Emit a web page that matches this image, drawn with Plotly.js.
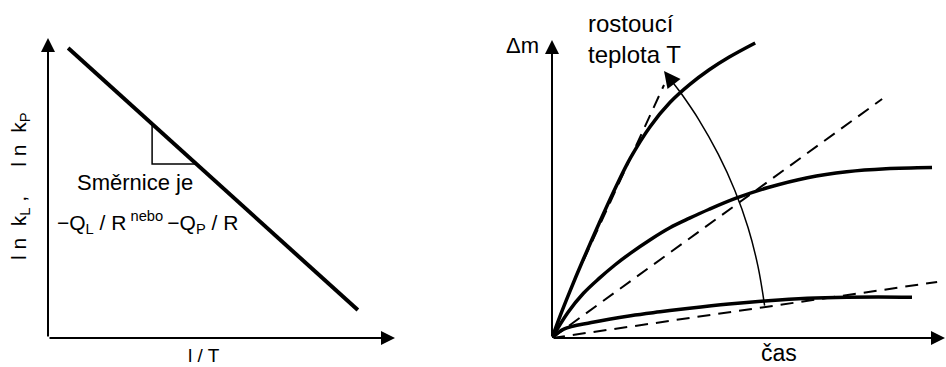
<!DOCTYPE html>
<html>
<head>
<meta charset="utf-8">
<script src="https://cdn.plot.ly/plotly-3.0.1.min.js"></script>
<style>html,body{margin:0;padding:0;background:#fff;}#chart{width:946px;height:367px;}</style>
</head>
<body>
<div id="chart"></div>
<script>
// ---- Left panel data (ln k vs 1/T) ----
const leftLineX = [0.58, 8.93];
const leftLineY = [9.67, 0.93];
const slopeTriX = [3.00, 3.00, 4.29];
const slopeTriY = [7.17, 5.80, 5.80];

// ---- Right panel data (Δm vs čas) ----
const topCurveX = [0, 0.2, 0.45, 0.8, 1.2, 1.6, 2.0, 2.5, 3.0, 3.5, 4.0, 4.5, 5.17];
const topCurveY = [0, 0.72, 1.55, 2.65, 3.85, 5.0, 6.05, 7.1, 7.9, 8.5, 9.0, 9.42, 9.9];
const midCurveX = [0, 0.4, 0.8, 1.2, 1.6, 2.0, 2.5, 3.0, 3.5, 4.0, 4.7, 5.5, 6.5, 7.5, 8.5, 9.67];
const midCurveY = [0, 0.85, 1.5, 2.0, 2.45, 2.85, 3.3, 3.7, 4.02, 4.32, 4.7, 5.05, 5.38, 5.58, 5.68, 5.72];
const lowCurveX = [0, 0.3, 1.0, 2.0, 2.75, 3.5, 4.5, 5.5, 6.5, 7.5, 8.3, 9.16];
const lowCurveY = [0, 0.3, 0.52, 0.75, 0.88, 1.0, 1.14, 1.25, 1.33, 1.37, 1.38, 1.37];
const topDashX = [0.8, 2.85];
const topDashY = [2.6, 8.49];
const midDashX = [0, 8.40];
const midDashY = [0, 8.02];
const lowDashX = [0, 9.80];
const lowDashY = [0, 1.88];
const arcX = [5.41, 5.24, 4.99, 4.65, 4.23, 3.73, 3.28];
const arcY = [1.09, 2.41, 3.70, 4.96, 6.17, 7.34, 8.22];
const arcTip = [2.85, 8.96];

// ---- Labels ----
const leftYLabel = 'l n  k<sub>L</sub> ,     l n  k<sub>P</sub>';
const leftXLabel = 'l / T';
const slopeLabel1 = 'Směrnice je';
const slopeLabel2 = '−Q<sub>L</sub> / R<sup> nebo </sup>−Q<sub>P</sub> / R';
const rightYLabel = 'Δm';
const rightXLabel = 'čas';
const tempLabel = 'rostoucí<br>teplota T';

const FONT = 'Liberation Sans, Arial, sans-serif';
const thick = {color: '#000', width: 4};
const curve = {color: '#000', width: 3.5, shape: 'spline', smoothing: 1};
const dash = {color: '#000', width: 2, dash: '13px,8px'};

const traces = [
  {x: leftLineX, y: leftLineY, xaxis: 'x', yaxis: 'y', mode: 'lines', line: thick},
  {x: slopeTriX, y: slopeTriY, xaxis: 'x', yaxis: 'y', mode: 'lines', line: {color: '#000', width: 1.5}},
  {x: topCurveX, y: topCurveY, xaxis: 'x2', yaxis: 'y2', mode: 'lines', line: curve},
  {x: midCurveX, y: midCurveY, xaxis: 'x2', yaxis: 'y2', mode: 'lines', line: curve},
  {x: lowCurveX, y: lowCurveY, xaxis: 'x2', yaxis: 'y2', mode: 'lines', line: curve},
  {x: topDashX, y: topDashY, xaxis: 'x2', yaxis: 'y2', mode: 'lines', line: dash},
  {x: midDashX, y: midDashY, xaxis: 'x2', yaxis: 'y2', mode: 'lines', line: dash},
  {x: lowDashX, y: lowDashY, xaxis: 'x2', yaxis: 'y2', mode: 'lines', line: dash},
  {x: arcX, y: arcY, xaxis: 'x2', yaxis: 'y2', mode: 'lines', line: {color: '#000', width: 1.5, shape: 'spline', smoothing: 1}}
];

const ax = {showgrid: false, zeroline: false, showticklabels: false, showline: false, ticks: '', range: [0, 10], fixedrange: true};

function arrow(xref, yref, x0, y0, x1, y1, w, size) {
  return {xref: xref, yref: yref, axref: xref, ayref: yref, x: x1, y: y1, ax: x0, ay: y0,
          text: '', showarrow: true, arrowhead: 2, arrowwidth: w, arrowsize: size, arrowcolor: '#000', standoff: 0};
}
function txt(px, py, text, size, opts) {
  return Object.assign({xref: 'paper', yref: 'paper', x: px / 946, y: 1 - py / 367, text: text,
          showarrow: false, font: {family: FONT, size: size, color: '#000'}, xanchor: 'center', yanchor: 'middle'}, opts || {});
}

const layout = {
  width: 946, height: 367,
  margin: {l: 0, r: 0, t: 0, b: 0},
  paper_bgcolor: '#fff', plot_bgcolor: '#fff',
  showlegend: false,
  xaxis: Object.assign({domain: [48 / 946, 395 / 946], anchor: 'y'}, ax),
  yaxis: Object.assign({domain: [29 / 367, 329 / 367], anchor: 'x'}, ax),
  xaxis2: Object.assign({domain: [552 / 946, 945 / 946], anchor: 'y2'}, ax),
  yaxis2: Object.assign({domain: [29 / 367, 327 / 367], anchor: 'x2'}, ax),
  annotations: [
    arrow('x', 'y', 0, 0, 0, 10, 2, 1.4),
    arrow('x', 'y', 0, 0, 10, 0, 2, 1.4),
    arrow('x2', 'y2', 0, 0, 0, 10, 2, 1.4),
    arrow('x2', 'y2', 0, 0, 10, 0, 2, 1.4),
    arrow('x2', 'y2', arcX[arcX.length - 1], arcY[arcY.length - 1], arcTip[0], arcTip[1], 1.5, 2.2),
    txt(135, 183, slopeLabel1, 22),
    txt(55, 222, slopeLabel2, 21, {xanchor: 'left'}),
    txt(20, 186, leftYLabel, 21, {textangle: -90}),
    txt(204, 355, leftXLabel, 19),
    txt(522, 45, rightYLabel, 22),
    txt(586, 39, tempLabel, 24, {xanchor: 'left', align: 'left'}),
    txt(779, 353, rightXLabel, 23)
  ]
};

Plotly.newPlot('chart', traces, layout, {staticPlot: true, displayModeBar: false});
</script>
</body>
</html>
